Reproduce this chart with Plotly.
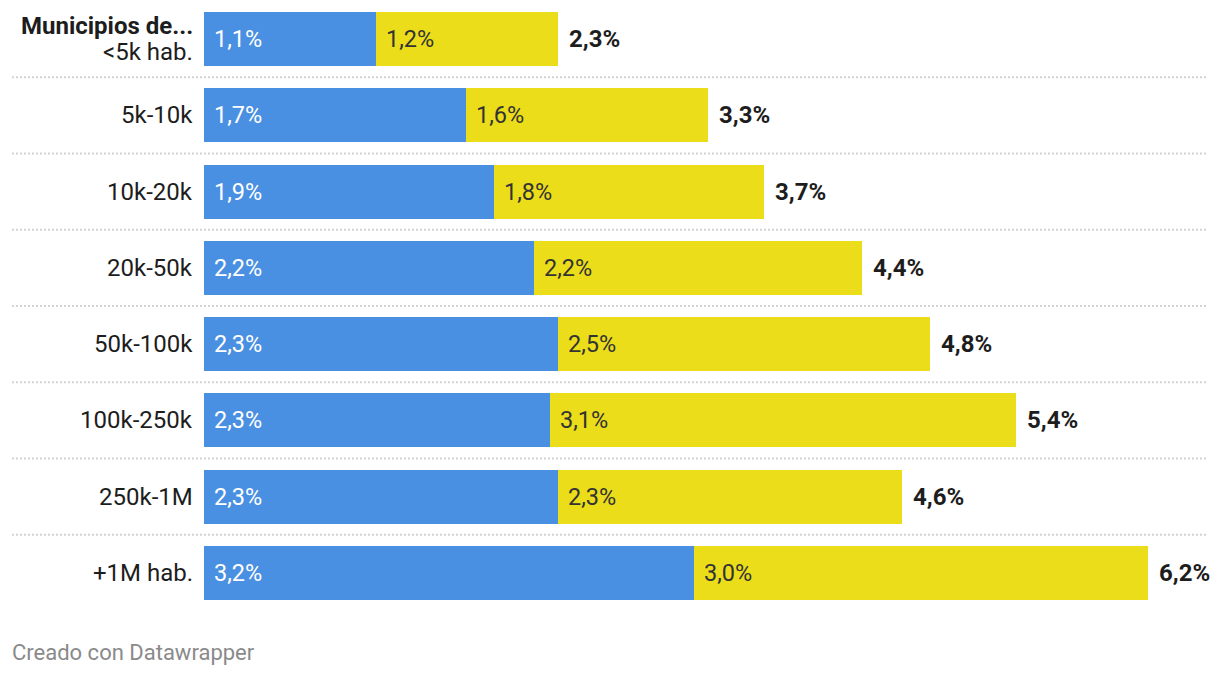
import plotly.graph_objects as go

categories = ["<5k hab.", "5k-10k", "10k-20k", "20k-50k", "50k-100k", "100k-250k", "250k-1M", "+1M hab."]
cat_labels = ["<b>Municipios de...</b><br>&lt;5k hab.", "5k-10k", "10k-20k", "20k-50k", "50k-100k", "100k-250k", "250k-1M", "+1M hab."]
blue_values = [1.13, 1.72, 1.905, 2.167, 2.325, 2.272, 2.325, 3.218]
yellow_values = [1.195, 1.59, 1.773, 2.154, 2.443, 3.061, 2.259, 2.982]
blue_labels = ["1,1%", "1,7%", "1,9%", "2,2%", "2,3%", "2,3%", "2,3%", "3,2%"]
yellow_labels = ["1,2%", "1,6%", "1,8%", "2,2%", "2,5%", "3,1%", "2,3%", "3,0%"]
total_labels = ["2,3%", "3,3%", "3,7%", "4,4%", "4,8%", "5,4%", "4,6%", "6,2%"]

BLUE = "#4a90e2"
YELLOW = "#ebdd19"
FONT = "Roboto"

W, H = 1220, 676
ML, MR, MT, MB = 204, 16, 1, 65
PW = W - ML - MR
PH = H - MT - MB
XMAX = PW / 152.26

fig = go.Figure()
fig.add_trace(go.Bar(y=categories, x=blue_values, orientation="h", marker=dict(color=BLUE, line=dict(width=0)),
                     width=0.71, hoverinfo="skip"))
fig.add_trace(go.Bar(y=categories, x=yellow_values, orientation="h", marker=dict(color=YELLOW, line=dict(width=0)),
                     width=0.71, hoverinfo="skip"))

ann = []
for i, c in enumerate(categories):
    b = blue_values[i]
    yv = yellow_values[i]
    ann.append(dict(x=0, y=c, xref="x", yref="y", text=blue_labels[i], showarrow=False,
                    xanchor="left", xshift=8, font=dict(family=FONT, size=23.5, color="white")))
    ann.append(dict(x=b, y=c, xref="x", yref="y", text=yellow_labels[i], showarrow=False,
                    xanchor="left", xshift=8, font=dict(family=FONT, size=23.5, color="#333333")))
    ann.append(dict(x=b + yv, y=c, xref="x", yref="y", text="<b>" + total_labels[i] + "</b>", showarrow=False,
                    xanchor="left", xshift=9, font=dict(family=FONT, size=24, color="#1d1d1d")))
    lines = cat_labels[i].split("<br>")
    n = len(lines)
    for j, ln in enumerate(lines):
        ann.append(dict(x=0, y=c, xref="paper", yref="y", text=ln, showarrow=False,
                        xanchor="right", xshift=-9, yshift=((n - 1) / 2 - j) * 26,
                        font=dict(family=FONT, size=24, color="#1d1d1d")))

ann.append(dict(x=(10 - ML) / PW, y=(MT + PH - 652) / PH, xref="paper", yref="paper",
                text="Creado con Datawrapper", showarrow=False, xanchor="left", yanchor="middle",
                font=dict(family=FONT, size=22, color="#8a8a8a")))

shapes = []
for k in range(len(categories) - 1):
    shapes.append(dict(type="line", xref="paper", yref="y", x0=(12 - ML) / PW, x1=(1208 - ML) / PW,
                       y0=k + 0.5, y1=k + 0.5, line=dict(color="#d4d4d4", width=2, dash="2px,2px")))

fig.update_layout(
    width=W, height=H, barmode="stack", showlegend=False,
    margin=dict(l=ML, r=MR, t=MT, b=MB),
    plot_bgcolor="white", paper_bgcolor="white",
    xaxis=dict(range=[0, XMAX], visible=False, fixedrange=True),
    yaxis=dict(type="category", categoryorder="array", categoryarray=categories,
               range=[len(categories) - 0.5, -0.5], showticklabels=False, showgrid=False,
               zeroline=False, fixedrange=True),
    annotations=ann, shapes=shapes,
    font=dict(family=FONT),
)

fig.write_html("out.html", config={"displayModeBar": False},
               post_script="document.body.style.margin='0';document.body.style.padding='0';")
